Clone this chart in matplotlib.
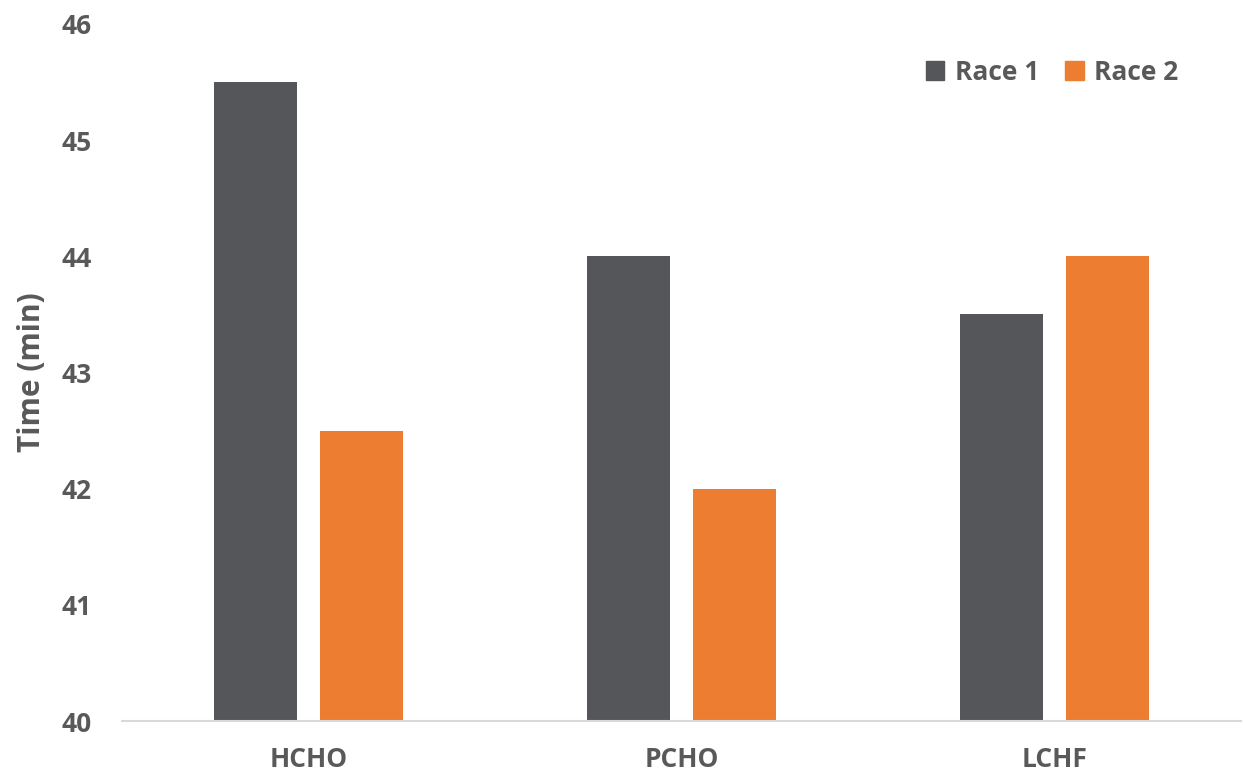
import matplotlib
matplotlib.use("Agg")
import matplotlib.pyplot as plt
import numpy as np
from matplotlib.patches import Patch

categories = ["HCHO", "PCHO", "LCHF"]
race1 = [45.5, 44.0, 43.5]
race2 = [42.5, 42.0, 44.0]
series_names = ["Race 1", "Race 2"]
yticks = [40, 41, 42, 43, 44, 45, 46]

c1 = "#55565A"
c2 = "#ED7D31"
tc = "#595959"

plt.rcParams['font.family'] = ['Open Sans', 'DejaVu Sans']
plt.rcParams['font.weight'] = 'bold'

fig = plt.figure(figsize=(12.43, 7.76), dpi=100)
ax = fig.add_axes([122/1243, 1-721/776, 1119/1243, (721-24)/776])

x = np.arange(len(categories))
w = 0.225
off = 0.142
ax.bar(x - off, race1, width=w, color=c1, label=series_names[0], zorder=2)
ax.bar(x + off, race2, width=w, color=c2, label=series_names[1], zorder=2)

ax.set_xlim(-0.5, len(categories) - 0.5)
ax.set_ylim(40, 46)
ax.set_yticks(yticks)
ax.set_yticklabels([str(t) for t in yticks])
ax.set_xticks(x)
ax.set_xticklabels(categories)

for s in ['top', 'right', 'left']:
    ax.spines[s].set_visible(False)
ax.spines['bottom'].set_color("#D9D9D9")
ax.spines['bottom'].set_linewidth(1.5)

ax.tick_params(axis='y', length=0, pad=22, labelsize=19, labelcolor=tc)
ax.tick_params(axis='x', length=0, pad=18, labelsize=19, labelcolor=tc)
for lab in ax.get_xticklabels() + ax.get_yticklabels():
    lab.set_fontweight('bold')

ax.set_ylabel("Time (min)", fontsize=21.5, fontweight='bold', color=tc)
ax.yaxis.label.set_va('center')
ax.yaxis.set_label_coords(-90/1119, 0.5)

handles = [Patch(color=c1), Patch(color=c2)]
leg = fig.legend(handles, series_names, loc='center',
                 bbox_to_anchor=(1052/1243, 1-72/776), ncol=2, frameon=False,
                 handlelength=0.7, handleheight=0.7, handletextpad=0.4,
                 columnspacing=1.0, prop={'size': 19, 'weight': 'bold'})
for t in leg.get_texts():
    t.set_color(tc)

fig.savefig("out.png", dpi=100)
